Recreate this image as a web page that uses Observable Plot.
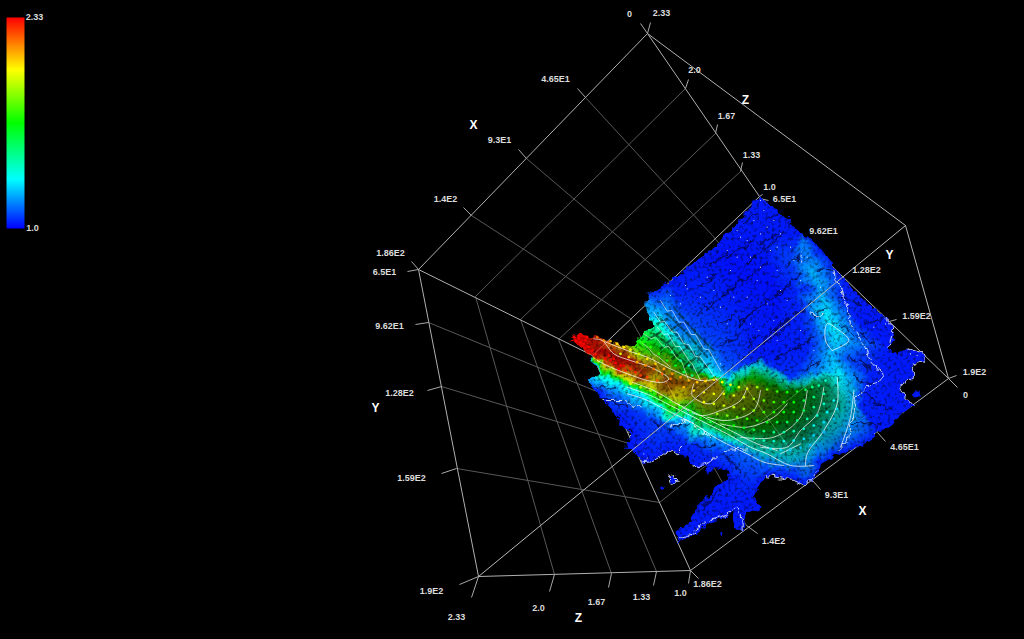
<!DOCTYPE html>
<html><head><meta charset="utf-8">
<script src="https://cdn.jsdelivr.net/npm/d3@7"></script>
<script src="https://cdn.jsdelivr.net/npm/@observablehq/plot@0.6"></script>
<style>html,body{margin:0;padding:0;background:#000;overflow:hidden}svg{display:block}</style>
</head><body><div id="chart"></div>
<script>
// Colour ramp
const rampDomain = [1, 1.31, 1.665, 2.0, 2.33];
const rampColors = ["#0000ff", "#00ffff", "#00ff00", "#ffff00", "#ff0000"];

// Box edges, screen-read [x1,y1,x2,y2]
const boxEdges = [
 [647,33,418,269],[418,269,478,576],[478,576,690,570],[690,570,948,378],[948,378,759,196],[759,196,647,33],
 [647,33,905,225],[905,225,948,378],[418,269,592,355],[592,355,759,196],[592,355,690,570]];
const diagonalEdge = [[905,225,478,576]];
const gridEdges = [
 [585,97,712,235],[526,158,668,279],[471,215,630,318],
 [685,88,475,296],[715,133,520,319],[740,171,558,339],
 [428,322,611,397],[441,386,632,444],[456,468,659,502],
 [554,574,475,296],[611,573,520,319],[656,571,558,339],
 [712,235,877,432],[668,279,812,480],[630,318,746,525],
 [611,397,793,226],[632,444,833,268],[659,502,885,322]];
const tickEdges = [
 [647,33,640,23],[647,33,650,22],[585,97,577,88],[526,158,518,149],[471,215,463,207],[418,269,411,261],[418,269,407,271],
 [685,88,688,79],[715,133,717,124],[740,171,742,162],[759,196,762,194],[759,198,768,200],
 [428,322,415,324],[441,386,427,390],[456,468,441,473],[478,576,459,584],
 [478,576,471,597],[554,574,549,591],[611,573,608,587],[656,571,653,585],[690,570,688,583],[690,570,698,578],
 [746,525,757,533],[812,480,820,489],[877,432,885,441],[948,378,957,387],[948,378,956,375],
 [885,322,896,319]];
const tickLabels = ["0","2.33","2.0","1.67","1.33","1.0","6.5E1","9.62E1","1.28E2","1.59E2","1.9E2","0","4.65E1","9.3E1","1.4E2","1.86E2","1.0","1.33","1.67","2.0","2.33","1.9E2","1.59E2","1.28E2","9.62E1","6.5E1","1.86E2","1.4E2","9.3E1","4.65E1","2.33","1.0"];
const tickLabelX = [629,661,694,726,751,769,784,823,866,916,974,965,904,836,773,707,680,641,596,538,456,431,411,399,389,384,390,445,499,555,34,32];
const tickLabelY = [14,13,70,116,155,187,199,231,270,316,372,395,447,495,541,584,593,597,602,608,617,591,478,393,326,272,253,199,140,79,17,228];
const axisNames = ["X","Z","Y","X","Z","Y"];
const axisNameX = [473,745,889,862,578,375];
const axisNameY = [125,100,255,511,618,408];

// Surface data below is in 3x crop units, origin at screen (560,190)
const outline = [[597,18],[640,50],[680,85],[720,125],[755,150],[785,180],[820,225],[850,265],[880,300],[915,330],[945,360],[975,380],[1000,410],[1000,450],[985,470],[1005,495],[1040,475],[1085,490],[1095,510],[1055,525],[1060,560],[1015,590],[1035,620],[1060,645],[1000,695],[950,730],[900,770],[840,790],[775,825],[780,845],[735,885],[700,870],[620,855],[600,880],[580,920],[600,945],[590,965],[550,960],[555,1015],[520,1015],[515,965],[470,990],[430,1010],[380,1045],[350,1058],[345,1020],[390,995],[400,960],[440,925],[480,875],[510,860],[505,840],[470,830],[440,855],[435,825],[400,830],[365,790],[330,780],[280,810],[245,820],[235,795],[200,770],[210,725],[185,700],[160,670],[130,625],[100,595],[78,575,1.18],[95,558,1.22],[118,548,1.4],[108,530,1.08],[92,505,1.05],[100,497,2.3,.8],[60,472,2.33,.95],[30,447,2.33,.95],[38,432,2.33,.95],[80,435,2.32,.9],[130,448,2.2,.8],[185,463,2.05,.8],[230,470,1.72,.9],[228,455,1.62,.95],[250,425,1.55,.95],[280,410,1.42],[262,370,1.2],[258,310,1.08],[290,298],[330,270],[390,225],[450,180],[510,115],[560,60]];
const islands = [[[325,860],[345,855],[350,875],[330,880]],[[300,888],[312,888],[310,898],[300,897]],[[1060,600],[1075,600],[1075,618],[1062,618]],[[480,1028],[492,1028],[490,1038],[480,1036]]];
const samples = [[480,200,1.02],[600,150,1.03],[650,300,1.02],[550,350,1.03],[450,350,1.05],[700,300,1.04],[690,200,1.08],[730,150,1.16],[745,200,1.15],[760,250,1.22],[780,300,1.2],[740,290,1.06],[800,240,1.12],[850,330,1.05],[900,400,1.03],[800,380,1.3],[830,430,1.28],[860,455,1.2],[780,440,1.12],[810,490,1.22],[790,540,1.2],[860,500,1.1],[930,560,1.04],[900,640,1.04],[740,480,1.04],[650,480,1.03],[600,500,1.03],[700,560,1.06],
[262,350,1.2],[270,390,1.33],[285,410,1.42],[240,440,1.6],[230,460,1.7],[320,420,1.3],[300,370,1.2],[350,420,1.15],[290,470,1.65,.7],[340,470,1.45,.7],[400,490,1.3,.8],[440,520,1.25],[330,510,1.8,.6],[400,540,1.5,.6],[460,550,1.3],[500,570,1.25],[510,540,1.1],[470,470,1.08],[400,400,1.08],
[60,450,2.33,.8],[100,445,2.3,.6],[200,480,2.12,.55],[300,530,2.05,.5],[400,570,2.12,.5],[470,570,2.08,.5],[560,590,1.98,.42],[650,605,1.78,.35],[740,600,1.6,.38],[800,575,1.42,.55],[835,550,1.28],[880,570,1.18],
[120,480,2.33,.6],[150,490,2.32,.6],[250,540,2.25,.5],[320,570,2.2,.45],[200,510,2.33,.6],[400,610,2.05,.45],[500,640,1.95,.42],[600,660,1.85,.36],[700,670,1.65,.36],[780,640,1.5,.42],[840,640,1.35,.6],[880,650,1.22,.85],
[440,660,1.9,.45],[540,700,1.72,.4],[640,730,1.55,.4],[730,740,1.42,.42],[800,720,1.3,.62],[860,720,1.18,.9],
[125,512,2.2,.8],[170,535,2.25,.7],[240,570,2.2,.55],[300,600,2.05,.5],[200,565,1.98,.9],[270,590,1.98,.85],[340,630,1.95,.8],[420,680,1.65,.7],[500,725,1.55,.7],[580,770,1.35,.7],[650,790,1.32,.7],[730,810,1.22,.8],
[170,578,1.3],[240,605,1.35],[300,650,1.32],[380,690,1.25],[460,740,1.2],[540,780,1.12],[620,830,1.1],[700,840,1.08],[760,800,1.15],
[100,570,1.2],[150,610,1.12],[220,660,1.06],[300,700,1.08],[380,760,1.05],[450,790,1.05],[520,840,1.07],[560,880,1.05],[500,900,1.04],[430,970,1.03]];

// Dark furrows in the blue slope
const furrows = [
 [[575,365],[610,340],[640,320],[680,285],[722,250]],[[530,405],[575,368]],[[640,420],[700,375],[760,330]],[[550,500],[600,465],[660,425]],
 [[500,300],[560,260],[620,215]],[[560,220],[610,180],[660,140]],[[410,370],[470,330],[530,285]],[[470,410],[520,375]],[[700,480],[760,440]],
 [[770,235],[830,240]],[[840,320],[900,340]],[[915,400],[965,385]],[[900,430],[950,470]],[[880,560],[930,580]],[[900,600],[960,640]],
 [[110,590],[165,595]],[[130,620],[200,650]],[[340,710],[390,700]],[[280,700],[340,720]],[[400,770],[460,760]],[[500,800],[540,850]],[[430,950],[480,900]],
 [[500,200],[580,150]],[[600,160],[660,120]],[[420,290],[470,250]],[[560,465],[600,430]],[[610,440],[690,400]],[[640,510],[720,460]],[[730,540],[780,510]],
 [[620,90],[670,60]],[[550,100],[590,70]],[[440,230],[500,190]],[[680,230],[720,195]],[[760,380],[790,350]],[[480,470],[540,430]],[[560,530],[610,500]],[[840,400],[880,440]],[[870,500],[930,530]],[[950,640],[1000,660]],[[880,700],[960,700]]];
// Scallops in the shaded upper band
const scallops = [
 [[300,385],[345,430],[390,480],[440,530]],[[280,430],[320,460],[360,505],[400,535]],[[320,370],[380,430],[440,500]],[[340,350],[400,420],[460,480]],
 [[265,445],[300,425]],[[300,475],[340,440]],[[335,505],[380,470]],[[370,530],[420,490]],[[410,550],[450,515]],[[290,400],[320,385]],[[330,420],[360,400]]];

// Coastline traces share the surface's roughening
const coastLines = [
 [[345,1045],[380,1040],[430,1000],[470,985],[515,960],[530,950],[545,985],[545,1015]],
 [[620,855],[700,870],[735,885],[775,840]],[[240,815],[280,810],[330,780],[355,790],[365,770]],[[395,830],[440,820],[465,800]],
 [[1040,475],[1085,490],[1095,510],[1055,525],[1060,560],[1015,590],[1035,620],[1060,645]],[[975,385],[1000,410],[985,470]],[[325,860],[345,855],[350,875],[330,880],[325,860]],
 [[820,235],[825,270],[845,300],[860,345],[870,400],[905,450],[930,510],[960,545],[965,575],[930,580],[885,620],[875,680],[865,740],[835,775]],
 [[130,630],[190,630],[240,650]],[[330,710],[380,690],[450,740]],[[490,780],[560,775]],[[750,370],[785,375]],[[720,215],[730,180]]];
// Smooth contours on the sheet
const contours = [
 [[815,480],[865,450],[830,415],[800,400],[795,450],[815,480]],
 [[100,445],[125,450],[160,490],[210,510],[270,530],[325,565],[310,575],[260,570],[215,555],[150,530],[110,510]],
 [[125,450],[200,480],[260,500],[340,540],[420,570],[470,565]],
 [[200,590],[270,615],[340,650],[420,690],[500,730],[570,770],[620,790],[690,825],[760,825]],
 [[215,575],[280,600],[350,640],[430,680],[510,720],[590,760],[650,780]],
 [[200,610],[250,625],[330,665],[400,700],[470,745],[560,790],[610,815],[670,825]],
 [[560,590],[540,630],[480,660],[420,675],[350,640]],[[400,580],[395,615],[450,640],[490,600]],
 [[600,600],[580,660],[500,690],[440,680]],[[680,640],[640,680],[560,710],[480,700]],
 [[740,600],[720,680],[640,740],[540,740]],[[790,590],[770,670],[720,720],[680,770],[600,770]],
 [[830,560],[830,640],[790,720],[740,790],[735,825]],[[880,600],[870,680],[840,770]],[[720,760],[660,790]]];
// Sawtooth contours on the scalloped band
const sawContours = [
 [[280,365],[300,395],[312,392],[335,425],[350,425],[370,460],[385,462],[405,498],[420,500],[445,535],[470,570]],
 [[300,330],[320,362],[335,360],[355,395],[370,395],[392,432],[405,432],[430,475],[445,478],[480,540]],
 [[250,430],[272,445],[285,440],[310,470],[325,468],[350,505],[362,510],[385,570]],
 [[290,410],[310,432],[322,430],[345,468],[358,468],[385,510],[395,520],[420,570]],
 [[240,455],[262,470],[278,490],[295,500],[330,530]]];

// Bright sample dots on the sheet: [x,y,value]
const sheetDots = [[40,440,2.33],[55,445,2.33],[70,460,2.33],[85,470,2.33],[60,455,2.33],[80,440,2.32],[95,480,2.33],[105,490,2.3],[45,450,2.33],[75,450,2.33],
[135,505,2.33],[150,510,2.33],[165,518,2.33],[180,525,2.33],[160,505,2.33],[175,535,2.33],[195,540,2.3],[210,535,2.28],[225,545,2.28],[240,555,2.25],[260,560,2.24],[290,570,2.22],[145,495,2.33],[190,525,2.33],
[110,440,2.2],[130,450,2.15],[150,452,2.1],[170,460,2.05],[190,470,2.02],[210,478,1.98],[235,490,1.95],[260,505,2.03],[285,520,2.08],[310,535,2.12],[335,550,2.15],[360,560,2.15],[385,570,2.1],[410,575,2.08],[435,572,2.05],[460,568,2.02],[485,575,2.0],[510,583,1.98],[535,590,1.96],[560,595,1.92],[590,590,1.85],[620,597,1.8],[650,603,1.74],[680,605,1.68],[710,603,1.62],[735,598,1.55],[755,590,1.5],[775,585,1.45],[795,570,1.38],
[370,590,2.1],[400,600,2.05],[430,605,2.0],[460,610,1.98],[490,610,1.97],[520,615,1.95],[550,620,1.92],[580,625,1.87],[610,630,1.8],[640,635,1.75],[670,635,1.7],[700,635,1.65],[730,630,1.58],[760,620,1.5],[790,610,1.42],
[430,635,1.98],[460,640,1.96],[490,645,1.94],[520,650,1.9],[550,655,1.86],[580,660,1.82],[610,665,1.76],[640,665,1.7],[670,665,1.65],[700,665,1.6],[730,660,1.54],[760,650,1.46],[790,640,1.38],[820,630,1.32],
[470,670,1.85],[500,675,1.82],[530,680,1.78],[560,685,1.72],[590,690,1.68],[620,695,1.63],[650,695,1.58],[680,695,1.55],[710,690,1.5],[740,685,1.44],[770,675,1.38],[800,665,1.32],[830,655,1.27],
[520,705,1.68],[550,712,1.62],[580,718,1.58],[610,722,1.52],[640,725,1.48],[670,725,1.45],[700,722,1.42],[730,715,1.38],[760,705,1.32],[790,695,1.27],[820,685,1.22],
[580,745,1.45],[610,750,1.4],[640,752,1.36],[670,752,1.34],[700,750,1.32],[730,745,1.28],[760,735,1.25],[790,725,1.22],
[630,775,1.3],[660,778,1.28],[690,778,1.26],[720,772,1.24],[750,765,1.22],
[180,490,1.95],[205,500,2.08],[230,515,2.12],[255,525,2.15],[280,535,2.18],[305,550,2.2],[330,565,2.18],
[210,580,1.95],[240,590,1.9],[270,600,1.85],[300,620,1.8],[330,635,1.75],[360,650,1.72],[390,665,1.68],[420,682,1.62],[450,695,1.58],
[260,430,1.58],[285,445,1.55],[310,465,1.52],[335,485,1.48],[360,510,1.42],[385,525,1.38],[245,455,1.7],[270,470,1.72],[295,490,1.7],[320,510,1.68],[345,525,1.62],[370,545,1.55],[395,555,1.48]];

// White specks on the blue slope
const specks = [[330,315],[375,285],[360,340],[380,295],[600,30],[610,60],[580,90],[640,90],[540,140],[600,130],[660,130],[500,180],[570,200],[630,180],[440,260],[510,240],[590,270],[650,240],[700,210],[420,320],[480,350],[560,320],[620,340],[680,330],[595,420],[640,390],[480,520],[750,370],[780,290],[740,200],[975,400],[940,410],[1050,490],[1070,495],[205,725],[210,735],[250,790],[360,770],[330,860],[345,870],[530,120],[620,110],[690,170],[460,300],[530,200],[600,230],[520,320],[660,300],[720,270],[500,400],[570,400],[650,450],[720,420],[760,480],[560,150],[650,170]];

const withDefaults = p => ({x: 560 + p[0]/3, y: 190 + p[1]/3, v: p[2] ?? 1.03, lit: p[3] ?? 1});
const surface = [...outline, ...islands.flat(), ...samples].map(withDefaults);
const flatLines = ls => ls.flatMap((l,i) => l.map(p => ({...withDefaults(p), id:i})));
const edgeRows = es => es.map(e => ({x1:e[0],y1:e[1],x2:e[2],y2:e[3]}));
const labelRows = tickLabels.map((t,i)=>({t,x:tickLabelX[i],y:tickLabelY[i]}));
const nameRows = axisNames.map((t,i)=>({t,x:axisNameX[i],y:axisNameY[i]}));

// Clip the surface raster to the traced outline, through the plot's own scales; roughen its edge
function clipToOutline(index, scales, values, dims, context, next) {
  const g = next(index, scales, values, dims, context);
  const ring = r => "M" + r.map(p => { const d = withDefaults(p); return `${scales.x(d.x)},${scales.y(d.y)}`; }).join("L") + "Z";
  const cp = document.createElementNS("http://www.w3.org/2000/svg","clipPath");
  cp.setAttribute("id","surface-clip");
  const path = document.createElementNS("http://www.w3.org/2000/svg","path");
  path.setAttribute("d",[outline,...islands].map(ring).join(""));
  cp.appendChild(path);
  g.appendChild(cp);
  g.querySelector("image")?.setAttribute("clip-path","url(#surface-clip)");
  g.setAttribute("filter","url(#rough-grain)");
  return g;
}
function roughen(index, scales, values, dims, context, next) {
  const g = next(index, scales, values, dims, context);
  g.setAttribute("filter","url(#rough)");
  return g;
}

const legendSamples = [{x:6,y:17,v:2.33},{x:24,y:17,v:2.33},{x:6,y:228,v:1},{x:24,y:228,v:1}];

const chart = Plot.plot({
  width:1024,height:639,margin:0,
  style:{background:"#000"},
  x:{domain:[0,1024],range:[0,1024],axis:null},
  y:{domain:[0,639],range:[0,639],axis:null},
  color:{type:"linear",domain:rampDomain,range:rampColors,interpolate:"rgb"},
  opacity:{domain:[0,1],range:[0,1]},
  marks:[
    Plot.link(edgeRows(gridEdges),{x1:"x1",y1:"y1",x2:"x2",y2:"y2",stroke:"#585858",strokeWidth:1}),
    Plot.link(edgeRows(boxEdges),{x1:"x1",y1:"y1",x2:"x2",y2:"y2",stroke:"#b0b0b0",strokeWidth:1}),
    Plot.link(edgeRows(tickEdges),{x1:"x1",y1:"y1",x2:"x2",y2:"y2",stroke:"#a8a8a8",strokeWidth:1}),
    Plot.raster(surface,{x:"x",y:"y",fill:"v",fillOpacity:"lit",interpolate:"barycentric",render:clipToOutline}),
    Plot.line(flatLines(furrows),{x:"x",y:"y",z:"id",stroke:"#00063a",strokeWidth:1.7,strokeOpacity:.7,strokeDasharray:"7 2 3 2",curve:"linear",render:roughen}),
    Plot.line(flatLines(scallops),{x:"x",y:"y",z:"id",stroke:"#002018",strokeWidth:2.2,strokeOpacity:.55,strokeDasharray:"6 3",curve:"catmull-rom"}),
    Plot.line(flatLines(coastLines),{x:"x",y:"y",z:"id",stroke:"#ffffff",strokeWidth:.9,strokeOpacity:.85,curve:"linear",render:roughen}),
    Plot.line(flatLines(contours),{x:"x",y:"y",z:"id",stroke:"#ffffff",strokeWidth:.9,strokeOpacity:.8,curve:"catmull-rom"}),
    Plot.line(flatLines(sawContours),{x:"x",y:"y",z:"id",stroke:"#ffffff",strokeWidth:.8,strokeOpacity:.7,curve:"linear"}),
    Plot.dot(sheetDots.map(withDefaults),{x:"x",y:"y",r:1.35,fill:"v",stroke:"none"}),
    Plot.dot(specks.map(withDefaults),{x:"x",y:"y",r:.55,fill:"#dfe8ff",stroke:"none"}),
    Plot.link(edgeRows(diagonalEdge),{x1:"x1",y1:"y1",x2:"x2",y2:"y2",stroke:"#b8b8b8",strokeWidth:1}),
    Plot.raster(legendSamples,{x:"x",y:"y",fill:"v",interpolate:"barycentric",x1:6,x2:24,y1:17,y2:228}),
    Plot.text(labelRows,{x:"x",y:"y",text:"t",fill:"#dcdcdc",fontSize:9,fontWeight:"bold",fontFamily:"Liberation Sans"}),
    Plot.text(nameRows,{x:"x",y:"y",text:"t",fill:"#ffffff",fontSize:12,fontWeight:"bold",fontFamily:"Liberation Sans"})
  ]
});
// Filters: a rough displacement for coastlines, plus a soft grain for the surface
const filterDefs = `
<filter id="rough" filterUnits="userSpaceOnUse" x="0" y="0" width="1024" height="639" color-interpolation-filters="sRGB">
  <feTurbulence type="fractalNoise" baseFrequency="0.14" numOctaves="2" seed="4" result="n"/>
  <feDisplacementMap in="SourceGraphic" in2="n" scale="9" xChannelSelector="R" yChannelSelector="G"/>
</filter>
<filter id="rough-grain" filterUnits="userSpaceOnUse" x="0" y="0" width="1024" height="639" color-interpolation-filters="sRGB">
  <feTurbulence type="fractalNoise" baseFrequency="0.14" numOctaves="2" seed="4" result="n"/>
  <feDisplacementMap in="SourceGraphic" in2="n" scale="9" xChannelSelector="R" yChannelSelector="G" result="d"/>
  <feTurbulence type="fractalNoise" baseFrequency="0.32" numOctaves="2" seed="9" result="g"/>
  <feColorMatrix in="g" type="matrix" values="1.5 0 0 0 0.22  1.5 0 0 0 0.22  1.5 0 0 0 0.22  0 0 0 0 1" result="gc"/>
  <feComposite in="d" in2="gc" operator="arithmetic" k1="1" k2="0" k3="0" k4="0" result="c"/>
  <feGaussianBlur in="c" stdDeviation="0.45"/>
</filter>`;
const defs = document.createElementNS("http://www.w3.org/2000/svg","defs");
defs.innerHTML = filterDefs;
chart.insertBefore(defs, chart.firstChild);
document.getElementById("chart").appendChild(chart);
</script></body></html>
